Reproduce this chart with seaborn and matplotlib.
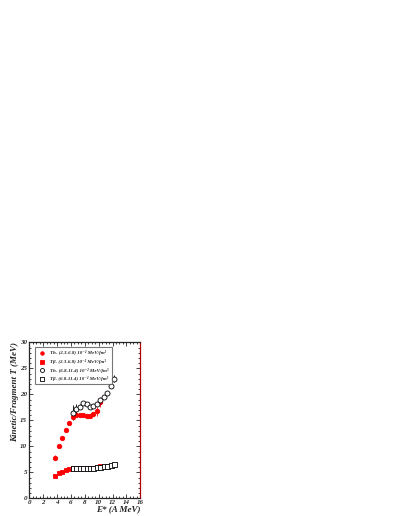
import numpy as np
import pandas as pd
import seaborn as sns
import matplotlib
matplotlib.use("Agg")
import matplotlib.pyplot as plt
from matplotlib.ticker import MultipleLocator

# energy bins (A MeV)
e_low = [3.75, 4.25, 4.75, 5.25, 5.75, 6.25, 6.75, 7.25, 7.75, 8.25, 8.75, 9.25, 9.75, 10.25]
e_high = [6.25, 6.75, 7.25, 7.75, 8.25, 8.75, 9.25, 9.75, 10.25, 10.75, 11.25, 11.75, 12.25]

# kinetic T, low density
th_low = [7.8, 10.1, 11.6, 13.1, 14.5, 15.7, 16.1, 16.0, 16.0, 15.8, 15.8, 16.2, 16.7, 18.5]
th_low_err = [0.5, 0.2, 0.2, 0.2, 0.2, 0.4, 0.3, 0.3, 0.3, 0.3, 0.3, 0.4, 0.8, 0.9]
# fragment T, low density
tb_low = [4.3, 4.8, 5.1, 5.4, 5.7, 5.8, 5.85, 5.85, 5.85, 5.85, 5.85, 5.9, 6.0, 6.2]
tb_low_err = [0.15] * 14

# kinetic T, high density
th_high = [16.5, 17.2, 17.6, 18.4, 18.1, 17.6, 17.8, 18.1, 19.0, 19.4, 20.3, 21.6, 23.0]
th_high_err = [1.5, 1.0, 0.5, 0.4, 0.3, 0.3, 0.3, 0.3, 0.3, 0.3, 0.3, 0.4, 0.7]
# fragment T, high density
tb_high = [5.9, 5.9, 5.9, 5.9, 5.9, 5.9, 5.9, 6.0, 6.1, 6.2, 6.3, 6.4, 6.6]
tb_high_err = [0.1] * 13

labels = ["Th- (2.3-6.8) 10⁻² MeV/fm³",
          "Tβ- (2.3-6.8) 10⁻² MeV/fm³",
          "Th- (6.8-11.4) 10⁻² MeV/fm³",
          "Tβ- (6.8-11.4) 10⁻² MeV/fm³"]

sns.set_style("ticks")
plt.rcParams['font.family'] = ['Liberation Serif', 'DejaVu Serif']

fig = plt.figure(figsize=(3.99, 5.16), dpi=100)
ax = fig.add_axes([0.0735, 0.0343, 0.278, 0.3023])

series = [
    (e_low, th_low, th_low_err, "o", "red", "red", labels[0], 3.2),
    (e_low, tb_low, tb_low_err, "s", "red", "red", labels[1], 3.2),
    (e_high, th_high, th_high_err, "o", "white", "black", labels[2], 3.6),
    (e_high, tb_high, tb_high_err, "s", "white", "black", labels[3], 3.6),
]

for x, y, err, mk, fc, ec, lab, ms in series:
    ax.errorbar(x, y, yerr=err, fmt="none", ecolor=ec, elinewidth=0.6, zorder=2)
    df = pd.DataFrame({"E": x, "T": y})
    sns.scatterplot(data=df, x="E", y="T", marker=mk, s=ms ** 2, color=fc,
                    edgecolor=ec, linewidth=0.6, label=lab, ax=ax, zorder=3)

ax.set_xlim(0, 16)
ax.set_ylim(0, 30)
ax.xaxis.set_major_locator(MultipleLocator(2))
ax.xaxis.set_minor_locator(MultipleLocator(0.5))
ax.yaxis.set_major_locator(MultipleLocator(5))
ax.yaxis.set_minor_locator(MultipleLocator(1))
ax.tick_params(which="both", direction="in", top=True, right=True,
               labelsize=5, width=0.6, pad=1.5)
ax.tick_params(which="major", length=3)
ax.tick_params(which="minor", length=1.5)
for lbl in ax.get_xticklabels() + ax.get_yticklabels():
    lbl.set_fontstyle("italic")
    lbl.set_fontweight("bold")
for side in ax.spines:
    ax.spines[side].set_linewidth(0.9)
ax.spines["right"].set_color("#b00000")

ax.set_xlabel("E* (A MeV)", fontsize=6.5, fontweight="bold", fontstyle="italic",
              loc="right", labelpad=0)
ax.set_ylabel("Kinetic/Fragment T (MeV)", fontsize=6.5, fontweight="bold",
              fontstyle="italic", loc="top", labelpad=1)

leg = ax.legend(loc="upper left", bbox_to_anchor=(0.03, 0.985), fontsize=3.6,
                frameon=True, fancybox=False, edgecolor="#555555",
                borderpad=0.6, labelspacing=0.75, handletextpad=1.0,
                handlelength=1.4, markerscale=0.8)
leg.get_frame().set_linewidth(0.8)
for t in leg.get_texts():
    t.set_fontstyle("italic")
    t.set_fontweight("bold")

fig.savefig("out.png", dpi=100)
